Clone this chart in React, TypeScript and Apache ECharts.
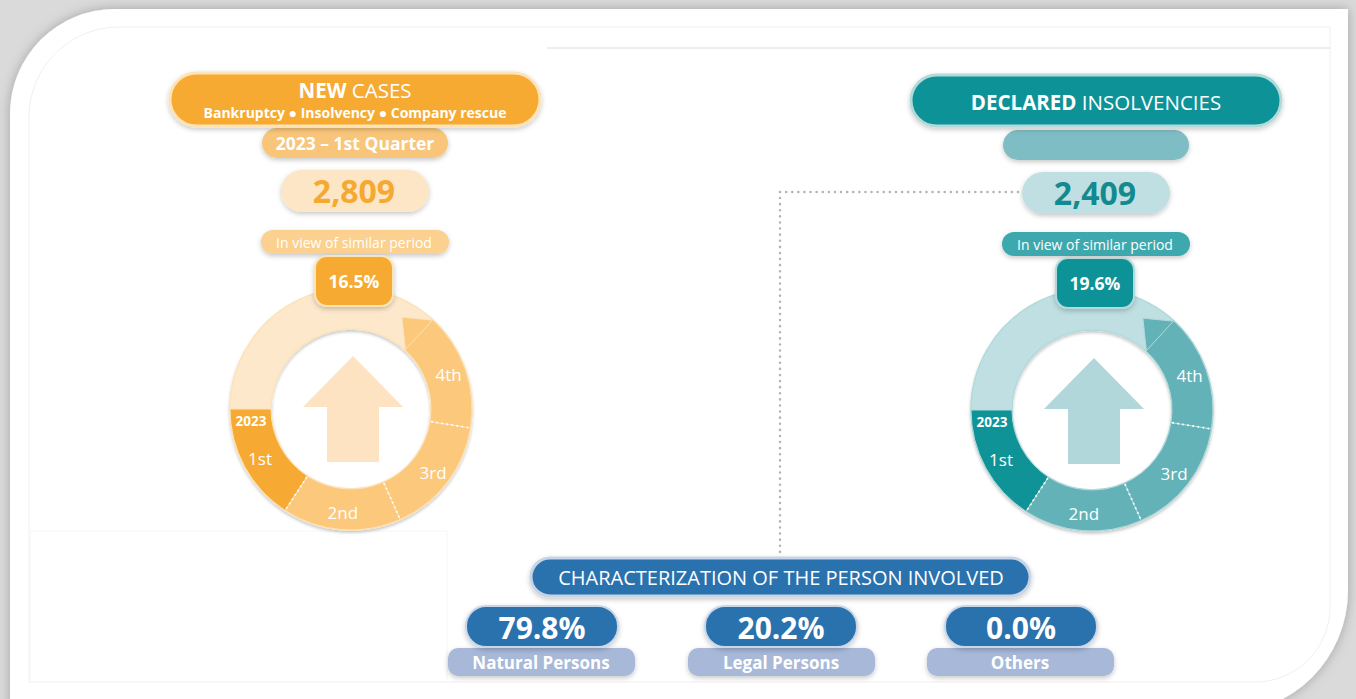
import React, { useEffect, useRef } from 'react';
import * as echarts from 'echarts';

const FONT = '"Open Sans", "Noto Sans", sans-serif';

// ---- data ----
const quarters = ['1st', '2nd', '3rd', '4th'];
const quarterWeights = [1, 1, 1, 1];
const periodYear = '2023';

const newCasesTitleBold = 'NEW';
const newCasesTitleRest = 'CASES';
const newCasesSubtitle = 'Bankruptcy \u25CF Insolvency \u25CF Company rescue';
const newCasesPeriod = '2023 \u2013 1st Quarter';
const newCasesValue = '2,809';
const newCasesChange = '16.5%';

const declaredTitleBold = 'DECLARED';
const declaredTitleRest = 'INSOLVENCIES';
const declaredValue = '2,409';
const declaredChange = '19.6%';

const similarPeriodText = 'In view of similar period';
const personTitle = 'CHARACTERIZATION OF THE PERSON INVOLVED';
const personTypes = ['Natural Persons', 'Legal Persons', 'Others'];
const personShares = [79.8, 20.2, 0.0];

// ---- palettes ----
const ORANGE = { main: '#f6aa33', mid: '#fcc87b', light: '#fde8cc', val: '#fde6c6', sim: '#fcd08e', period: '#f9c57a', border: '#fde3b8', arrow: '#fde3c2', num: '#f6a931' };
const TEAL = { main: '#0f9397', mid: '#63b2b8', light: '#c0dfe2', val: '#c0dfe2', sim: '#3ca8ad', period: '#7ebdc3', border: '#b3dadb', arrow: '#b1d7db', num: '#128a8f' };

const R_IN = 80;
const R_OUT = 121;
const START = 180;
const END = 48;
const TIP = 13;

const shadow = { shadowBlur: 5, shadowOffsetY: 2, shadowColor: 'rgba(0,0,0,0.22)' };

function pill(x: number, y: number, w: number, h: number, fill: string, stroke?: string, lw = 0, r?: number, z = 10) {
  return {
    type: 'rect', z, silent: true,
    shape: { x, y, width: w, height: h, r: r ?? h / 2 },
    style: { fill, stroke: stroke || 'none', lineWidth: lw, ...shadow },
  };
}

function txt(text: string, x: number, y: number, size: number, weight: string, color: string, z = 11) {
  return {
    type: 'text', z, silent: true, x, y,
    style: { text, align: 'center', verticalAlign: 'middle', fontSize: size, fontWeight: weight, fontFamily: FONT, fill: color },
  };
}

function richTitle(bold: string, rest: string, x: number, y: number, size: number) {
  return {
    type: 'text', z: 11, silent: true, x, y,
    style: {
      text: `{b|${bold}} {r|${rest}}`, align: 'center', verticalAlign: 'middle', fill: '#fff', fontFamily: FONT, fontSize: size,
      rich: {
        b: { fontWeight: 'bold', fontSize: size, fill: '#fff', fontFamily: FONT },
        r: { fontWeight: 'normal', fontSize: size, fill: '#fff', fontFamily: FONT },
      },
    },
  };
}

function upArrow(cx: number, top: number, headHalf: number, headBase: number, shaftHalf: number, bottom: number, fill: string) {
  return {
    type: 'polygon', z: 6, silent: true,
    shape: {
      points: [
        [cx, top], [cx + headHalf, headBase], [cx + shaftHalf, headBase], [cx + shaftHalf, bottom],
        [cx - shaftHalf, bottom], [cx - shaftHalf, headBase], [cx - headHalf, headBase],
      ],
    },
    style: { fill },
  };
}

const pt = (cx: number, cy: number, r: number, deg: number) => [cx + r * Math.cos((deg * Math.PI) / 180), cy - r * Math.sin((deg * Math.PI) / 180)];

function separators(cx: number, cy: number) {
  const total = quarterWeights.reduce((a, b) => a + b, 0);
  const span = 360 - (START - END);
  const els: any[] = [];
  let acc = 0;
  for (let i = 0; i < quarterWeights.length - 1; i++) {
    acc += quarterWeights[i];
    const deg = START + (acc / total) * span;
    const [x1, y1] = pt(cx, cy, R_IN + 2, deg);
    const [x2, y2] = pt(cx, cy, R_OUT - 2, deg);
    els.push({
      type: 'line', z: 8, silent: true,
      shape: { x1, y1, x2, y2 },
      style: { stroke: 'rgba(255,255,255,0.95)', lineWidth: 2, lineDash: [0.1, 5], lineCap: 'round' },
    });
  }
  return els;
}

function tip(cx: number, cy: number, p: any) {
  return {
    type: 'polygon', z: 5, silent: true,
    shape: { points: [pt(cx, cy, R_OUT - 0.5, END - 0.5), pt(cx, cy, 105, END + TIP), pt(cx, cy, R_IN + 0.5, END - 0.5)] },
    style: { fill: p.mid, stroke: p.border, lineWidth: 1 },
  };
}

function donut(cx: number, cy: number, p: any) {
  return [
    {
      type: 'pie', center: [cx, cy], radius: [R_IN, R_OUT], silent: true, z: 3,
      label: { show: false }, labelLine: { show: false }, emphasis: { disabled: true },
      itemStyle: { borderColor: p.border, borderWidth: 1.5, ...shadow, shadowBlur: 3 },
      data: [{ value: 1, name: 'bg', itemStyle: { color: p.light } }],
    },
    {
      type: 'pie', center: [cx, cy], radius: [R_IN, R_OUT], silent: true, z: 4,
      startAngle: START, endAngle: END, clockwise: false, avoidLabelOverlap: false,
      emphasis: { disabled: true },
      label: { show: true, position: 'inside', formatter: '{b}', color: '#fff', fontSize: 17, fontFamily: FONT },
      labelLine: { show: false },
      itemStyle: { borderColor: p.border, borderWidth: 1 },
      data: quarters.map((q, i) => ({ name: q, value: quarterWeights[i], itemStyle: { color: i === 0 ? p.main : p.mid } })),
    },
  ];
}

function column(cx: number, dcx: number, dcy: number, p: any, titleBold: string, titleRest: string, sub: string | null, period: string, value: string, change: string, dy: number) {
  const els: any[] = [];
  els.push(pill(cx - 185, 73 + dy, 370, 53 - dy, p.main, p.border, 3));
  if (sub) {
    els.push(richTitle(titleBold, titleRest, cx, 90, 20.5));
    els.push(txt(sub, cx, 112, 14, 'bold', '#fff'));
  } else {
    els.push(richTitle(titleBold, titleRest, cx, 102, 20.5));
  }
  els.push(pill(cx - 93, 128 + dy, 186, 30, p.period, undefined, 0, undefined, 9));
  if (period) els.push(txt(period, cx, 143 + dy, 17.5, 'bold', '#fff'));
  els.push(pill(cx - 74, 170 + dy, 148, 42, p.val, undefined, 0, undefined, 9));
  els.push(txt(value, cx - 1, 190 + dy, 32, 'bold', p.num));
  els.push(pill(cx - 94, 230 + dy, 188, 24, p.sim, undefined, 0, undefined, 9));
  els.push(txt(similarPeriodText, cx - 1, 242 + dy, 14, 'normal', '#fff'));
  els.push(pill(cx - 40, 256 + dy, 78, 50, p.main, p.border, 2, 12, 12));
  els.push(txt(change, cx - 1, 281 + dy, 17.5, 'bold', '#fff', 13));
  els.push(upArrow(dcx + 2, 356 + dy, 50, 407 + dy, 26, 462 + dy, p.arrow));
  els.push(txt(periodYear, dcx - 100, dcy + 12, 13.5, 'bold', '#fff', 9));
  els.push(tip(dcx, dcy, p));
  els.push(...separators(dcx, dcy));
  return els;
}

export default function App() {
  const ref = useRef<HTMLDivElement>(null);
  useEffect(() => {
    document.body.style.margin = '0';
    if (!ref.current) return;
    const chart = echarts.init(ref.current, undefined, { renderer: 'svg' });

    const L = { cx: 355, dcx: 351, dcy: 409 };
    const Rr = { cx: 1096, dcx: 1092, dcy: 410 };

    const elements: any[] = [];
    // card
    elements.push({ type: 'rect', z: 0, silent: true, shape: { x: 10, y: 9, width: 1338, height: 705, r: [105, 0, 124, 0] }, style: { fill: '#ffffff', shadowBlur: 12, shadowColor: 'rgba(0,0,0,0.25)' } });
    elements.push({ type: 'rect', z: 1, silent: true, shape: { x: 29, y: 27, width: 1301, height: 655, r: [90, 0, 75, 0] }, style: { fill: 'none', stroke: '#f0f0f0', lineWidth: 1 } });
    elements.push({ type: 'line', z: 1, silent: true, shape: { x1: 547, y1: 48, x2: 1330, y2: 48 }, style: { stroke: '#dcdcdc', lineWidth: 1 } });
    elements.push({ type: 'rect', z: 1, silent: true, shape: { x: 30, y: 531, width: 417, height: 151 }, style: { fill: 'none', stroke: '#f6f6f6', lineWidth: 1 } });

    // dotted connector
    elements.push({ type: 'polyline', z: 2, silent: true, shape: { points: [[1018, 192], [780, 192], [780, 552]] }, style: { stroke: '#b4b4b4', lineWidth: 2.5, lineDash: [0.1, 6], lineCap: 'round', fill: 'none' } });

    elements.push(...column(L.cx, L.dcx, L.dcy, ORANGE, newCasesTitleBold, newCasesTitleRest, newCasesSubtitle, newCasesPeriod, newCasesValue, newCasesChange, 0));
    elements.push(...column(Rr.cx, Rr.dcx, Rr.dcy, TEAL, declaredTitleBold, declaredTitleRest, null, '', declaredValue, declaredChange, 2));

    // bottom section
    elements.push(pill(531, 558, 499, 38, '#2a72ad', '#c6d4e6', 3));
    elements.push(txt(personTitle, 781, 577, 20, 'normal', '#fff'));
    const valX = [466, 705, 945];
    const labX = [448, 688, 927];
    personTypes.forEach((name, i) => {
      elements.push(pill(labX[i], 648, 187, 28, '#a7b8d9', undefined, 0, 10, 9));
      elements.push(txt(name, labX[i] + 93, 662, 17, 'bold', '#fff'));
      elements.push(pill(valX[i], 606, 152, 41, '#2a72ad', '#c9d6e8', 2, 20, 12));
      elements.push(txt(personShares[i].toFixed(1) + '%', valX[i] + 76, 627, 30, 'bold', '#fff', 13));
    });

    chart.setOption({
      animation: false,
      backgroundColor: '#dadada',
      graphic: { elements },
      series: [...donut(L.dcx, L.dcy, ORANGE), ...donut(Rr.dcx, Rr.dcy, TEAL)],
    });
    return () => chart.dispose();
  }, []);
  return <div ref={ref} style={{ width: 1356, height: 699 }} />;
}
